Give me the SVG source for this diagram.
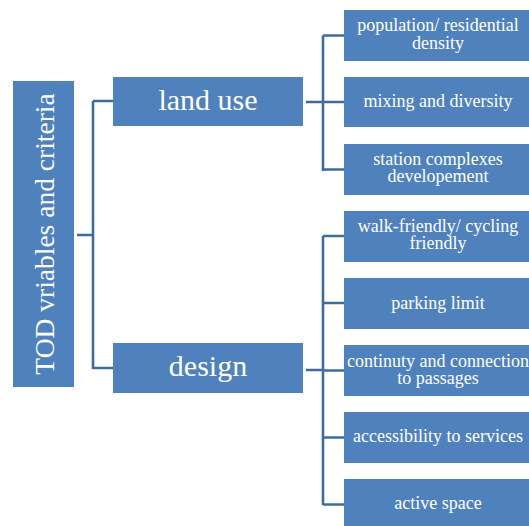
<svg xmlns="http://www.w3.org/2000/svg" width="529" height="526" viewBox="0 0 529 526">
<style>
.box{fill:#4F81BD}
.conn{fill:none;stroke:#3F6C9F;stroke-width:2.6}
.t{fill:#FFFFFF;text-anchor:middle;font-family:'Liberation Serif','Times New Roman',serif}
.c{font-size:18px}
.m{font-size:30px}
</style>
<rect width="529" height="526" fill="#FFFFFF"/>
<g id="connectors">
<path class="conn" d="M77,235 H93 M93,101 V369 M93,101 H113 M93,368 H113"/>
<path class="conn" d="M306,102 H323 M323,35.5 V171 M323,35.5 H344 M323,102 H344 M323,169.5 H344"/>
<path class="conn" d="M306,370 H323 M323,236 V505 M323,236 H344 M323,303 H344 M323,370.5 H344 M323,437.5 H344 M323,504.5 H344"/>
</g>
<g id="root">
<rect class="box" x="13" y="81" width="61" height="306"/>
<text class="t" transform="translate(53.5,234) rotate(-90)" font-size="27.5">TOD vriables and criteria</text>
</g>
<g id="landuse">
<rect class="box" x="113" y="77" width="190" height="49"/>
<text class="t m" x="208" y="110">land use</text>
</g>
<g id="design">
<rect class="box" x="113" y="343" width="190" height="50"/>
<text class="t m" x="208" y="376">design</text>
</g>
<g id="n1">
<rect class="box" x="344" y="10" width="188" height="51"/>
<text class="t c" x="438" y="31">population/ residential</text>
<text class="t c" x="438" y="48.5">density</text>
</g>
<g id="n2">
<rect class="box" x="344" y="77" width="188" height="50"/>
<text class="t c" x="438" y="107">mixing and diversity</text>
</g>
<g id="n3">
<rect class="box" x="344" y="144" width="188" height="51"/>
<text class="t c" x="438" y="164.5">station complexes</text>
<text class="t c" x="438" y="182">developement</text>
</g>
<g id="n4">
<rect class="box" x="344" y="211" width="188" height="51"/>
<text class="t c" x="438" y="231.5">walk-friendly/ cycling</text>
<text class="t c" x="438" y="249">friendly</text>
</g>
<g id="n5">
<rect class="box" x="344" y="278" width="188" height="51"/>
<text class="t c" x="438" y="308.5">parking limit</text>
</g>
<g id="n6">
<rect class="box" x="344" y="345" width="188" height="51"/>
<text class="t c" x="438" y="366.5">continuty and connection</text>
<text class="t c" x="438" y="384">to passages</text>
</g>
<g id="n7">
<rect class="box" x="344" y="412" width="188" height="51"/>
<text class="t c" x="438" y="442">accessibility to services</text>
</g>
<g id="n8">
<rect class="box" x="344" y="479" width="188" height="51"/>
<text class="t c" x="438" y="508.5">active space</text>
</g>
</svg>
